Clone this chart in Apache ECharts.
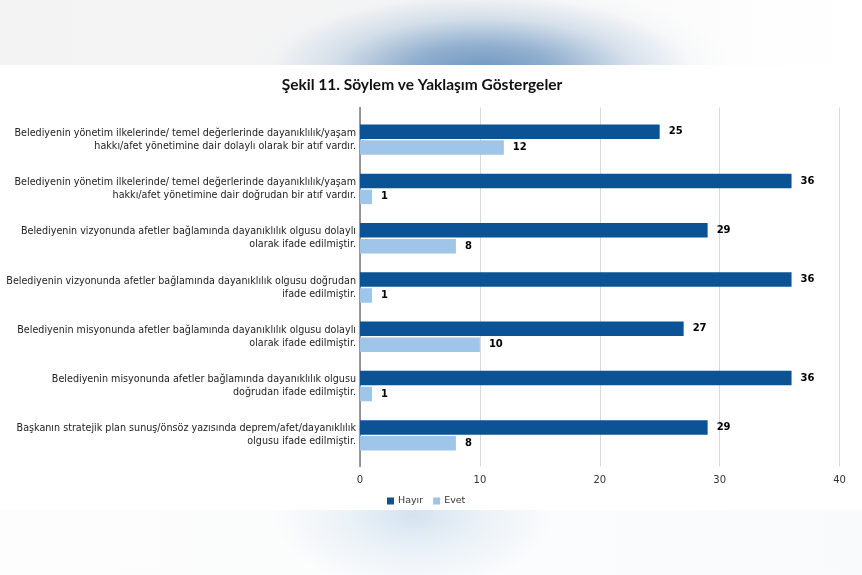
<!DOCTYPE html>
<html>
<head>
<meta charset="utf-8">
<script src="https://cdn.jsdelivr.net/npm/echarts@6/dist/echarts.min.js"></script>
<style>
  html, body { margin: 0; padding: 0; width: 862px; height: 575px; overflow: hidden; background: #ffffff; }
  #topband { position: absolute; left: 0; top: 0; width: 862px; height: 65px;
    background:
      radial-gradient(ellipse 250px 90px at 482px 72px, rgba(108,149,190,1) 0%, rgba(135,168,203,0.9) 30%, rgba(190,208,226,0.6) 60%, rgba(235,239,244,0.25) 85%, rgba(244,244,244,0) 100%),
      linear-gradient(to right, #f3f3f3, #f5f5f5 50%, #fdfdfd 85%, #ffffff); }
  #botband { position: absolute; left: 0; top: 510px; width: 862px; height: 65px;
    background:
      radial-gradient(ellipse 140px 75px at 414px 5px, rgba(212,227,240,1) 0%, rgba(228,237,245,0.75) 45%, rgba(250,251,253,0) 100%),
      linear-gradient(to right, #fdfdfd, #fbfcfd 60%, #f9fafb); }
  #chart { position: absolute; left: 0; top: 0; width: 862px; height: 575px; }
</style>
</head>
<body>
<div id="topband"></div>
<div id="botband"></div>
<div id="chart"></div>
<script>
const categories = [
  "Belediyenin yönetim ilkelerinde/ temel değerlerinde dayanıklılık/yaşam\nhakkı/afet yönetimine dair dolaylı olarak bir atıf vardır.",
  "Belediyenin yönetim ilkelerinde/ temel değerlerinde dayanıklılık/yaşam\nhakkı/afet yönetimine dair doğrudan bir atıf vardır.",
  "Belediyenin vizyonunda afetler bağlamında dayanıklılık olgusu dolaylı\nolarak ifade edilmiştir.",
  "Belediyenin vizyonunda afetler bağlamında dayanıklılık olgusu doğrudan\nifade edilmiştir.",
  "Belediyenin misyonunda afetler bağlamında dayanıklılık olgusu dolaylı\nolarak ifade edilmiştir.",
  "Belediyenin misyonunda afetler bağlamında dayanıklılık olgusu\ndoğrudan ifade edilmiştir.",
  "Başkanın stratejik plan sunuş/önsöz yazısında deprem/afet/dayanıklılık\nolgusu ifade edilmiştir."
];
const hayir = [25, 36, 29, 36, 27, 36, 29];
const evet = [12, 1, 8, 1, 10, 1, 8];
const seriesNames = ["Hayır", "Evet"];
const xTicks = { min: 0, max: 40, interval: 10 };
const titleText = "Şekil 11. Söylem ve Yaklaşım Göstergeler";

const chart = echarts.init(document.getElementById('chart'), null, { renderer: 'canvas' });
const labelStyle = { show: true, position: 'right', distance: 9, color: '#000', fontWeight: 'bold',
  fontFamily: 'DejaVu Sans', fontSize: 10, padding: [3, 0, 0, 0] };
chart.setOption({
  backgroundColor: 'transparent',
  animation: false,
  title: { text: titleText, left: 417, textAlign: 'center', top: 72,
    textStyle: { fontFamily: 'Lato', fontWeight: 'bold', fontSize: 15.5, color: '#111' } },
  legend: { data: seriesNames, left: 382, top: 491, itemWidth: 7, itemHeight: 7, itemGap: 10,
    icon: 'rect', textStyle: { fontFamily: 'DejaVu Sans', fontSize: 9.5, color: '#333', padding: [0,0,0,-1] } },
  graphic: [{ type: 'rect', silent: true, z: -10, shape: { x: 0, y: 65, width: 862, height: 445 }, style: { fill: '#ffffff' } }],
  grid: [
    { left: 360, width: 479.5, top: 115, height: 345, containLabel: false },
    { left: 360, width: 479.5, top: 107.5, height: 359, containLabel: false }
  ],
  xAxis: [
    { gridIndex: 0, type: 'value', min: xTicks.min, max: xTicks.max, interval: xTicks.interval,
      axisLabel: { show: false }, axisLine: { show: false }, axisTick: { show: false }, splitLine: { show: false } },
    { gridIndex: 1, type: 'value', min: xTicks.min, max: xTicks.max, interval: xTicks.interval,
      axisLine: { show: false }, axisTick: { show: false },
      axisLabel: { margin: 9, color: '#333', fontFamily: 'DejaVu Sans', fontSize: 10 },
      splitLine: { show: true, lineStyle: { color: '#d9d9d9', width: 1 } } }
  ],
  yAxis: [
    { gridIndex: 0, type: 'category', data: categories, inverse: true,
      axisLine: { show: false }, axisTick: { show: false },
      axisLabel: { margin: 4, color: '#222', fontFamily: 'DejaVu Sans', fontSize: 9.6, lineHeight: 13, align: 'right',
        padding: [5, 0, 0, 0] } },
    { gridIndex: 1, type: 'value', min: 0, max: 1, axisLabel: { show: false }, axisTick: { show: false },
      splitLine: { show: false }, axisLine: { show: true, lineStyle: { color: '#777', width: 1.5 } } }
  ],
  series: [
    { name: seriesNames[0], type: 'bar', xAxisIndex: 0, yAxisIndex: 0, data: hayir, barWidth: 14.5, barGap: '10%',
      itemStyle: { color: '#0b5394' }, label: labelStyle },
    { name: seriesNames[1], type: 'bar', xAxisIndex: 0, yAxisIndex: 0, data: evet, barWidth: 14.5, barGap: '10%',
      itemStyle: { color: '#9fc5e8' }, label: labelStyle }
  ]
});
</script>
</body>
</html>
